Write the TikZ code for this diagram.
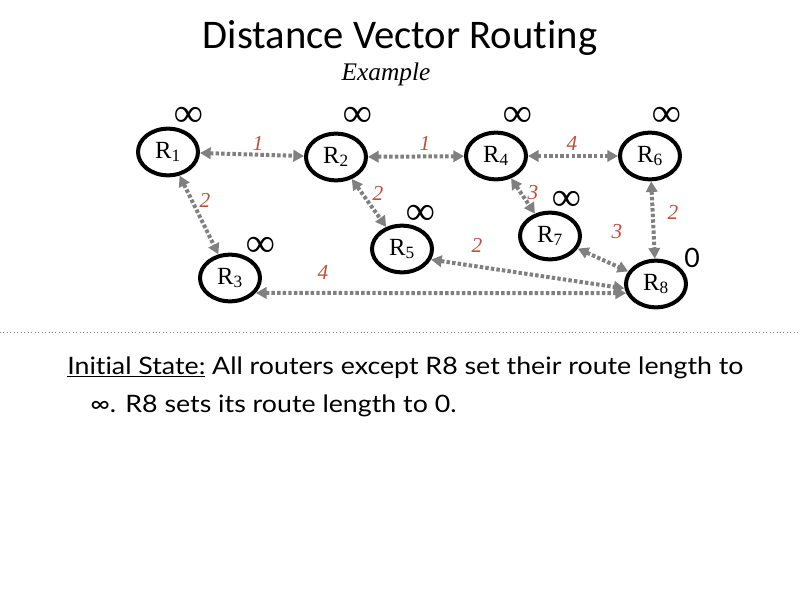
\documentclass[tikz,border=0pt]{standalone}
\usepackage{fontspec}
\setmainfont{Liberation Serif}
\newfontfamily\titlefont[Ligatures=NoCommon]{Carlito}
\newfontfamily\bodyfont[Ligatures=NoCommon]{Lato}
\usetikzlibrary{arrows.meta,shapes.geometric}
\definecolor{edgegray}{RGB}{128,128,128}
\definecolor{lblred}{RGB}{190,80,55}
\tikzset{
  router/.style={ellipse, draw=black, line width=3pt, minimum width=45pt, minimum height=35pt, inner sep=0pt, font=\fontsize{18.5}{18.5}\selectfont},
  link/.style={draw=edgegray, line width=3pt, dash pattern=on 2.6pt off 1.6pt,
    {Triangle[length=8pt,width=8.5pt,fill=edgegray]}-{Triangle[length=8pt,width=8.5pt,fill=edgegray]}},
  cost/.style={text=lblred, font=\fontsize{16}{16}\selectfont\itshape},
  inf/.style={font=\fontsize{30}{30}\selectfont\bfseries},
  bodyline/.style={anchor=base west, font=\bodyfont\fontsize{18}{18}\selectfont, inner sep=0pt}
}
\begin{document}
\begin{tikzpicture}[x=0.75pt,y=-0.75pt]
\useasboundingbox (0,0) rectangle (800,600);
\node[font=\titlefont\fontsize{30.5}{30.5}\selectfont] (title) at (400,38) {Distance Vector Routing};
\node[font=\fontsize{19}{19}\selectfont\itshape] (sub) at (386,74) {Example};

\node[router] (R1) at (168,152) {R\textsubscript{1}};
\node[router] (R2) at (336,157) {R\textsubscript{2}};
\node[router] (R3) at (230,278) {R\textsubscript{3}};
\node[router] (R4) at (496,156) {R\textsubscript{4}};
\node[router] (R5) at (402,249) {R\textsubscript{5}};
\node[router] (R6) at (650,156) {R\textsubscript{6}};
\node[router] (R7) at (550,236) {R\textsubscript{7}};
\node[router] (R8) at (656,284) {R\textsubscript{8}};

\node[inf] (i1) at (189,117) {∞};
\node[inf] (i2) at (358,117) {∞};
\node[inf] (i4) at (518,117) {∞};
\node[inf] (i6) at (667,117) {∞};
\node[inf] (i7) at (567,201) {∞};
\node[inf] (i5) at (421,215) {∞};
\node[inf] (i3) at (261,247) {∞};
\node[font=\bodyfont\fontsize{20}{20}\selectfont] (z8) at (692,258) {0};

\draw[link] (R1) -- (R2);
\draw[link] (R2) -- (R4);
\draw[link] (R4) -- (R6);
\draw[link] (R1) -- (R3);
\draw[link] (R2) -- (R5);
\draw[link] (R4) -- (R7);
\draw[link] (R6) -- (R8);
\draw[link] (R7) -- (R8);
\draw[link] (R5.-20) -- (R8.188);
\draw[link] (R3.-30) -- (R8.197);

\node[cost] (c12) at (258,143) {1};
\node[cost] (c24) at (425,143) {1};
\node[cost] (c46) at (572,143) {4};
\node[cost] (c13) at (205,200) {2};
\node[cost] (c25) at (378,193) {2};
\node[cost] (c47) at (533,193) {3};
\node[cost] (c68) at (673,212) {2};
\node[cost] (c78) at (617,232) {3};
\node[cost] (c58) at (477,245) {2};
\node[cost] (c38) at (323,272) {4};

\draw[edgegray, line width=0.6pt, dotted] (0,332) -- (800,332);

\node[bodyline] (l1) at (67,374)
  {\scalebox{1.115}[1]{\underline{Initial State:} All routers except R8 set their route length to}};
\node[bodyline] (l2) at (90,412)
  {\scalebox{1.115}[1]{∞. R8 sets its route length to 0.}};
\end{tikzpicture}
\end{document}
